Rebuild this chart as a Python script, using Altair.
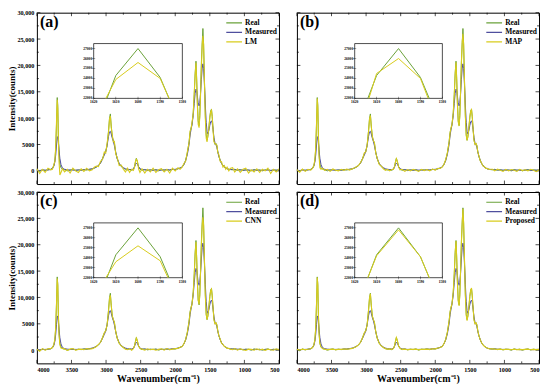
import altair as alt
import pandas as pd

FONT = "Liberation Serif"
GREEN = "#6aa23a"
BLUE = "#4f4f9e"
YELLOW = "#d8cc1c"

PANEL_LABELS = ["(a)", "(b)", "(c)", "(d)"]
METHOD_NAMES = ["LM", "MAP", "CNN", "Proposed"]

X_DOMAIN = [4000, 500]
Y_DOMAIN = [-2500, 30000]
X_TICKS = [4000, 3500, 3000, 2500, 2000, 1500, 1000, 500]
X_MINOR = [3750, 3250, 2750, 2250, 1750, 1250, 750]
Y_TICKS = [0, 5000, 10000, 15000, 20000, 25000, 30000]
Y_MINOR = [2500, 7500, 12500, 17500, 22500, 27500]

WN = [4000, 3960, 3920, 3880, 3840, 3800,
      3775, 3755, 3740, 3728, 3716, 3706, 3698, 3690, 3680, 3668, 3652, 3630,
      3600, 3560, 3520, 3480, 3440, 3400, 3360, 3320, 3280, 3240, 3200, 3170,
      3140, 3110, 3080, 3050, 3025, 3005, 2985, 2965, 2950, 2938, 2925, 2910, 2895, 2880, 2860, 2840, 2810, 2780, 2750,
      2720, 2690, 2660, 2630, 2605,
      2590, 2575, 2562, 2548, 2530, 2510,
      2480, 2440, 2400, 2360, 2320, 2280, 2240, 2200, 2160, 2120, 2080, 2040, 2000, 1960, 1930,
      1900, 1875, 1850, 1825, 1800, 1785, 1772, 1758, 1740, 1725, 1712, 1700, 1690, 1680, 1668, 1655, 1645, 1635,
      1622, 1610, 1600, 1590, 1578, 1565, 1552, 1540, 1528, 1515, 1500, 1488, 1476, 1465, 1452, 1440, 1425, 1410,
      1398, 1385, 1370, 1350, 1330, 1310, 1290, 1270, 1250, 1225, 1200,
      1170, 1140, 1100, 1060, 1020, 980, 940, 900, 860, 820, 780, 740, 700, 660, 620, 580, 540, 500]

REAL = [150, -100, 250, 50, 200, 300,
        500, 1000, 2000, 4200, 9000, 13900, 12500, 7000, 3200, 1300, 600, 300,
        200, 0, 150, 250, 50, 200, 100, 250, 150, 300, 350, 500,
        700, 1000, 1500, 2400, 3300, 3700, 4800, 7500, 10000, 10800, 8500, 6500, 5800, 5300, 3500, 2300, 1300, 800, 500,
        300, 150, 250, 100, 300,
        800, 1700, 2400, 1800, 800, 350,
        100, 250, 50, 200, 100, 250, 0, 200, 150, 250, 100, 300, 200, 400, 500,
        700, 1200, 2000, 3400, 5500, 7300, 8100, 8800, 11000, 14500, 18500, 20800, 17500, 13000, 9500, 8600, 10500, 14500,
        20500, 24300, 27000, 24100, 17500, 10500, 6800, 5800, 6500, 8000, 10200, 11400, 11700, 10300, 7800, 5800, 5000, 5200,
        4800, 3700, 2800, 2000, 1400, 1000, 750, 550, 400, 300, 250,
        200, 300, 100, 250, 50, 200, 150, 0, 250, 100, 200, 0, 150, 250, 50, 200, 100, 150]

MEASURED = [100, 80, 120, 150, 180, 250,
            450, 900, 1700, 3000, 4900, 6300, 6500, 5600, 4000, 2400, 1200, 500,
            300, 200, 150, 150, 150, 150, 150, 200, 250, 300, 400, 550,
            750, 1000, 1500, 2300, 3000, 3600, 4800, 6500, 7400, 7500, 7000, 6200, 5600, 4800, 3500, 2400, 1400, 900, 600,
            400, 300, 250, 250, 350,
            700, 1200, 1500, 1300, 800, 400,
            250, 200, 150, 150, 150, 150, 150, 150, 150, 200, 200, 250, 300, 400, 550,
            750, 1200, 1900, 3100, 5000, 6800, 7800, 8700, 10500, 12800, 14700, 15500, 15200, 14200, 12900, 12300, 12800, 14500,
            17300, 19500, 20300, 19400, 16500, 12500, 9200, 7500, 7000, 7600, 8600, 9300, 9500, 9000, 7800, 6300, 5300, 4900,
            4500, 3600, 2800, 2000, 1400, 1000, 750, 550, 400, 300, 250,
            250, 200, 200, 150, 150, 150, 150, 100, 150, 150, 100, 100, 150, 150, 100, 100, 150, 150]

LM = [400, -500, 300, -300, 500, 200,
      300, 1200, 1800, 4500, 9500, 13500, 11800, 6000, 1800, -800, -300, 400,
      -200, 300, -400, 500, 0, -300, 400, -100, 500, 0, 200, 700,
      900, 800, 1800, 2200, 3600, 3400, 5200, 7200, 9800, 10400, 8200, 6800, 5500, 5600, 3200, 2600, 1000, 1100, 300,
      -200, 500, -300, 300, 100,
      600, 1800, 2200, 1900, 400, -300,
      400, -400, 300, -200, 500, -300, 200, 400, -200, 300, -400, 500, 0, 600, 300,
      700, 1400, 1800, 3600, 5300, 7600, 7900, 9100, 10800, 14800, 18200, 20500, 17000, 12500, 8800, 8200, 10200, 14000,
      19500, 23900, 25600, 24000, 17000, 10000, 6200, 5500, 6800, 7800, 10000, 11200, 11500, 10100, 7500, 5500, 5200, 5000,
      4900, 3500, 3100, 1800, 1700, 700, 1000, 300, 700, 0, 500,
      600, -200, 400, -300, 300, 500, -400, 200, -200, 400, -300, 300, 0, 500, -500, 300, -200, 400]

MAP = [250, -250, 350, -100, 300, 150,
       450, 1000, 2200, 4400, 9200, 13700, 12000, 6800, 2800, 600, 300, 500,
       100, 300, -100, 350, 100, 0, 300, 100, 350, 150, 400, 550,
       800, 1000, 1600, 2300, 3400, 3600, 4900, 7400, 9800, 10500, 8400, 6600, 5700, 5400, 3400, 2400, 1200, 900, 400,
       100, 300, 0, 250, 250,
       800, 1700, 2300, 1700, 700, 200,
       300, -100, 250, 0, 300, 100, -100, 300, 50, 250, 0, 350, 150, 500, 450,
       700, 1200, 2100, 3400, 5400, 7300, 8100, 8800, 10900, 14400, 18400, 20600, 17300, 12800, 9300, 8500, 10400, 14500,
       20600, 24500, 26000, 24000, 17300, 10400, 6700, 5800, 6500, 8000, 10100, 11300, 11600, 10200, 7700, 5800, 5000, 5200,
       4800, 3600, 2900, 1900, 1500, 900, 850, 450, 500, 250, 300,
       300, 0, 350, 100, -100, 300, 0, 250, 100, -100, 300, 50, 200, 0, 300, 100, -150, 200]

CNN = [200, -200, 300, 0, 250, 300,
       500, 1100, 2100, 4300, 9000, 13600, 12300, 6900, 3000, 1000, 400, 350,
       250, -50, 200, 300, 0, 150, 200, 100, 300, 200, 300, 450,
       700, 1100, 1500, 2400, 3300, 3700, 4800, 7300, 9700, 10400, 8400, 6500, 5800, 5300, 3500, 2300, 1300, 800, 500,
       200, 100, 300, 0, 300,
       800, 1600, 2300, 1800, 800, 300,
       200, 0, 250, 100, 200, 0, 150, 250, 0, 300, 100, 200, 300, 350, 550,
       700, 1200, 2000, 3400, 5400, 7200, 8000, 8700, 10800, 14300, 18200, 20500, 17300, 12900, 9500, 8700, 10500, 14300,
       19800, 23600, 25200, 23700, 17200, 10400, 6800, 5800, 6500, 8000, 10100, 11300, 11600, 10200, 7800, 5800, 5000, 5200,
       4800, 3700, 2800, 2100, 1300, 1100, 700, 600, 350, 350, 200,
       100, 300, 0, 250, 100, -50, 200, 150, 0, 250, 50, 200, -50, 200, 100, 0, 250, 100]

PROPOSED = [150, 50, 200, 100, 180, 280,
            500, 1000, 2000, 4200, 9000, 13800, 12400, 7000, 3200, 1300, 600, 300,
            200, 100, 150, 200, 100, 150, 150, 200, 200, 250, 350, 500,
            700, 1000, 1500, 2400, 3300, 3700, 4800, 7500, 9900, 10700, 8500, 6500, 5800, 5300, 3500, 2300, 1300, 800, 500,
            300, 200, 250, 150, 300,
            800, 1700, 2400, 1800, 800, 350,
            150, 200, 100, 150, 150, 200, 100, 150, 150, 200, 150, 250, 250, 400, 500,
            700, 1200, 2000, 3400, 5500, 7300, 8100, 8800, 11000, 14500, 18500, 20700, 17500, 13000, 9300, 8400, 10500, 14500,
            20400, 24200, 26800, 24100, 17500, 10500, 6600, 5600, 6500, 8000, 10200, 11400, 11800, 10300, 7800, 5800, 5000, 5200,
            4800, 3700, 2800, 2000, 1400, 1000, 750, 550, 400, 300, 250,
            250, 200, 150, 200, 100, 150, 150, 100, 200, 100, 150, 100, 150, 200, 100, 150, 100, 150]

METHOD_VALUES = {"LM": LM, "MAP": MAP, "CNN": CNN, "Proposed": PROPOSED}

# inset (zoom around the 1600 cm-1 peak)
INSET_X_DOMAIN = [1620, 1580]
INSET_Y_DOMAIN = [22000, 27500]
INSET_X_TICKS = [1620, 1610, 1600, 1590, 1580]
INSET_Y_TICKS = [22000, 23000, 24000, 25000, 26000, 27000]
INSET_REAL_WN = [1614, 1610, 1600, 1590, 1586]
INSET_REAL = [22000, 24300, 27000, 24100, 22000]
INSET_METHOD_WN = {
    "LM": [1614.5, 1610, 1600, 1590, 1586],
    "MAP": [1613.5, 1610, 1600, 1590, 1586.5],
    "CNN": [1614.5, 1610, 1600, 1590, 1586.5],
    "Proposed": [1614, 1610, 1600, 1590, 1586],
}
INSET_METHOD = {
    "LM": [22000, 23900, 25600, 24000, 22000],
    "MAP": [22000, 24500, 26000, 24000, 22000],
    "CNN": [22000, 23600, 25200, 23700, 22000],
    "Proposed": [22000, 24200, 26800, 24100, 22000],
}

n = len(WN)
for s in [REAL, MEASURED, LM, MAP, CNN, PROPOSED]:
    assert len(s) == n, (len(s), n)

W, H = 243, 172


def panel(k):
    name = METHOD_NAMES[k]
    row, col = divmod(k, 2)
    dom = ["Real", "Measured", name]
    xscale = alt.Scale(domain=X_DOMAIN, nice=False, zero=False)
    yscale = alt.Scale(domain=Y_DOMAIN, nice=False, zero=False)
    if row == 1:
        xaxis = alt.Axis(values=X_TICKS, format="d", ticks=False, domain=False, labelPadding=3,
                         titlePadding=1, title="Wavenumber(cm⁻¹)")
    else:
        xaxis = alt.Axis(labels=False, ticks=False, domain=False, title=None)
    if col == 0:
        yaxis = alt.Axis(values=Y_TICKS, ticks=False, domain=False, labelPadding=3, titlePadding=0,
                         labelExpr="datum.value >= 10000 ? format(datum.value, ',') : format(datum.value, 'd')",
                         title="Intensity(counts)")
    else:
        yaxis = alt.Axis(labels=False, ticks=False, domain=False, title=None)

    def mx(f):
        return alt.X(f, scale=xscale, axis=xaxis)

    def my(f):
        return alt.Y(f, scale=yscale, axis=yaxis)

    legend = alt.Legend(title=None, orient="none", legendX=189, legendY=6)
    color_scale = alt.Scale(domain=dom, range=[GREEN, BLUE, YELLOW])

    layers = []
    # inward ticks on the frame
    xt = pd.DataFrame({"t": X_TICKS})
    xm = pd.DataFrame({"t": X_MINOR})
    yt = pd.DataFrame({"t": Y_TICKS})
    ym = pd.DataFrame({"t": Y_MINOR})
    for df, ln in [(xt, 3.5), (xm, 2)]:
        layers.append(alt.Chart(df).mark_rule(color="black", strokeWidth=0.7).encode(
            x=mx("t:Q"), y=alt.value(H), y2=alt.value(H - ln)))
        layers.append(alt.Chart(df).mark_rule(color="black", strokeWidth=0.7).encode(
            x=mx("t:Q"), y=alt.value(0), y2=alt.value(ln)))
    for df, ln in [(yt, 3.5), (ym, 2)]:
        layers.append(alt.Chart(df).mark_rule(color="black", strokeWidth=0.7).encode(
            y=my("t:Q"), x=alt.value(0), x2=alt.value(ln)))
        layers.append(alt.Chart(df).mark_rule(color="black", strokeWidth=0.7).encode(
            y=my("t:Q"), x=alt.value(W), x2=alt.value(W - ln)))

    for sname, vals, sw in [("Real", REAL, 1.0), ("Measured", MEASURED, 1.0), (name, METHOD_VALUES[name], 1.1)]:
        df = pd.DataFrame({"wn": WN, "value": vals, "series": [sname] * n})
        layers.append(alt.Chart(df).mark_line(strokeWidth=sw).encode(
            x=mx("wn:Q"), y=my("value:Q"),
            color=alt.Color("series:N", scale=color_scale, legend=legend)))

    lab = pd.DataFrame({"label": [PANEL_LABELS[k]]})
    layers.append(alt.Chart(lab).mark_text(align="left", baseline="top", font=FONT, fontWeight="bold",
                                           fontSize=16, color="black").encode(
        x=alt.value(3), y=alt.value(1), text="label:N"))
    main = alt.layer(*layers)

    # ---- inset ----
    x0 = 57 if col == 0 else 58
    ixs = alt.Scale(domain=INSET_X_DOMAIN, range=[x0, 146], nice=False, zero=False)
    iys = alt.Scale(domain=INSET_Y_DOMAIN, range=[86, 31], nice=False, zero=False)

    def ix(f):
        return alt.X(f, scale=ixs, axis=None)

    def iy(f):
        return alt.Y(f, scale=iys, axis=None)

    frame_df = pd.DataFrame({"x1": [INSET_X_DOMAIN[0]], "x2": [INSET_X_DOMAIN[1]],
                             "y1": [INSET_Y_DOMAIN[0]], "y2": [INSET_Y_DOMAIN[1]]})
    frame = alt.Chart(frame_df).mark_rect(fill="white", stroke="black", strokeWidth=0.7).encode(
        x=ix("x1:Q"), x2="x2:Q", y=iy("y1:Q"), y2="y2:Q")
    ilayers = [frame]
    for sname, wn, vals in [("Real", INSET_REAL_WN, INSET_REAL),
                            (name, INSET_METHOD_WN[name], INSET_METHOD[name])]:
        df = pd.DataFrame({"wn": wn, "value": vals, "series": [sname] * len(wn)})
        ilayers.append(alt.Chart(df).mark_line(strokeWidth=1.0).encode(
            x=ix("wn:Q"), y=iy("value:Q"),
            color=alt.Color("series:N", scale=color_scale, legend=legend)))
    ylab = pd.DataFrame({"v": INSET_Y_TICKS, "x": [INSET_X_DOMAIN[0]] * len(INSET_Y_TICKS)})
    xlab = pd.DataFrame({"v": INSET_X_TICKS, "y": [INSET_Y_DOMAIN[0]] * len(INSET_X_TICKS)})
    ilayers.append(alt.Chart(ylab).mark_tick(orient="horizontal", size=3, thickness=0.5, color="black").encode(
        x=ix("x:Q"), y=iy("v:Q")))
    ilayers.append(alt.Chart(xlab).mark_tick(orient="vertical", size=3, thickness=0.5, color="black").encode(
        x=ix("v:Q"), y=iy("y:Q")))
    ilayers.append(alt.Chart(ylab).mark_text(align="right", baseline="middle", dx=-1.5, font=FONT,
                                             fontWeight="bold", fontSize=3.6, color="black").encode(
        x=ix("x:Q"), y=iy("v:Q"), text=alt.Text("v:Q", format="d")))
    ilayers.append(alt.Chart(xlab).mark_text(align="center", baseline="top", dy=2, font=FONT,
                                             fontWeight="bold", fontSize=3.6, color="black").encode(
        x=ix("v:Q"), y=iy("y:Q"), text=alt.Text("v:Q", format="d")))
    inset = alt.layer(*ilayers)

    return alt.layer(main, inset).resolve_scale(x="independent", y="independent").properties(
        width=W, height=H)


panels = [panel(k) for k in range(4)]

chart = alt.concat(*panels, columns=2, spacing={"row": 8, "column": 18}, bounds="flush").resolve_scale(
    color="independent"
).properties(
    padding={"left": -1, "top": 0, "right": 0, "bottom": 0}
).configure_view(
    stroke="black", strokeWidth=1
).configure_axis(
    labelFont=FONT, titleFont=FONT, labelFontWeight="bold", titleFontWeight="bold",
    labelFontSize=6.2, labelColor="black", titleColor="black", grid=False
).configure_axisX(
    titleFontSize=10
).configure_axisY(
    titleFontSize=9
).configure_legend(
    labelFont=FONT, labelFontWeight="bold", labelFontSize=7.5, labelColor="black",
    symbolStrokeWidth=1.2, symbolSize=250, rowPadding=0.5, padding=0, labelOffset=2,
    labelLimit=200, clipHeight=8.5
)

chart.save("out.html", embed_options={"renderer": "svg", "actions": False})
